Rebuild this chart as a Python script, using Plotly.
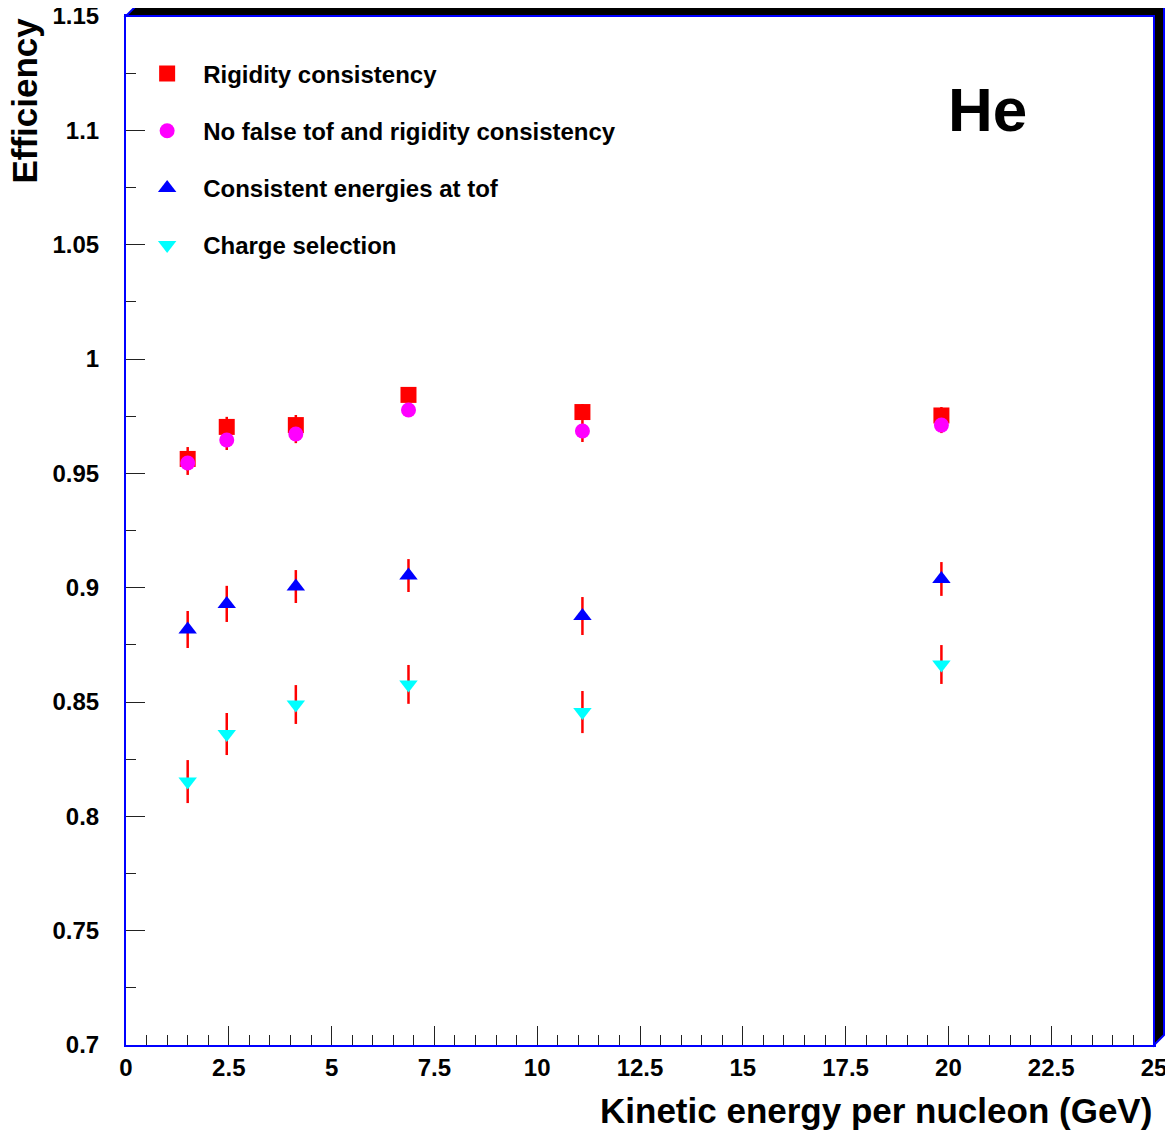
import plotly.graph_objects as go

# ---- data ----
energy = [1.50, 2.45, 4.13, 6.87, 11.10, 19.83]

rigidity_eff = [0.9563, 0.9703, 0.9711, 0.9843, 0.9768, 0.9753]
rigidity_err = [0.0052, 0.0044, 0.0044, 0.0030, 0.0035, 0.0037]

nofalsetof_eff = [0.9545, 0.9646, 0.9672, 0.9777, 0.9685, 0.9711]
nofalsetof_err = [0.0052, 0.0044, 0.0040, 0.0030, 0.0048, 0.0035]

tofenergy_eff = [0.8817, 0.8929, 0.9005, 0.9053, 0.8876, 0.9038]
tofenergy_err = [0.0081, 0.0079, 0.0072, 0.0072, 0.0083, 0.0074]

charge_eff = [0.8152, 0.8360, 0.8489, 0.8577, 0.8456, 0.8664]
charge_err = [0.0094, 0.0092, 0.0085, 0.0085, 0.0092, 0.0085]

series_names = ["Rigidity consistency",
                "No false tof and rigidity consistency",
                "Consistent energies at tof",
                "Charge selection"]

x_tickvals = [0, 2.5, 5, 7.5, 10, 12.5, 15, 17.5, 20, 22.5, 25]
x_ticktext = ["0", "2.5", "5", "7.5", "10", "12.5", "15", "17.5", "20", "22.5", "25"]
y_tickvals = [0.7, 0.75, 0.8, 0.85, 0.9, 0.95, 1.0, 1.05, 1.1, 1.15]
y_ticktext = ["0.7", "0.75", "0.8", "0.85", "0.9", "0.95", "1", "1.05", "1.1", "1.15"]

FONT = "Liberation Sans, Arial, Helvetica, sans-serif"
BLUE = "#0000ff"

fig = go.Figure()

specs = [
    (rigidity_eff, rigidity_err, "square", "#ff0000", 16),
    (nofalsetof_eff, nofalsetof_err, "circle", "#ff00ff", 15),
    (tofenergy_eff, tofenergy_err, "triangle-up", "#0000ff", 16),
    (charge_eff, charge_err, "triangle-down", "#00ffff", 16),
]
for i, (vals, errs, sym, col, sz) in enumerate(specs):
    fig.add_trace(go.Scatter(
        x=energy, y=vals, mode="markers", name=series_names[i],
        legendgroup=f"g{i}",
        marker=dict(symbol=sym, color=col, size=sz, line=dict(width=0)),
        error_y=dict(type="data", array=errs, visible=True, color="#ff0000",
                     thickness=2.5, width=0),
    ))

# frame shadow (top and right), ROOT style
d = 0.00973
fig.add_shape(type="path", xref="paper", yref="paper",
              path=f"M 0,1 L {d},{1+d} L {1+d},{1+d} L {1+d},{d} L 1,0 L 1,1 Z",
              fillcolor="black", line=dict(color=BLUE, width=2), layer="above")

fig.add_annotation(x=0.8385, y=0.9087, xref="paper", yref="paper",
                   text="He", showarrow=False, xanchor="center", yanchor="middle",
                   font=dict(family=FONT, size=62, color="black", weight="bold"))
fig.add_annotation(x=1.0, y=-0.0632, xref="paper", yref="paper",
                   text="Kinetic energy per nucleon (GeV)", showarrow=False,
                   xanchor="right", yanchor="middle",
                   font=dict(family=FONT, size=35, color="black", weight="bold"))
fig.add_annotation(x=-0.0996, y=1.0, xref="paper", yref="paper",
                   text="Efficiency", showarrow=False, textangle=-90,
                   xanchor="center", yanchor="top",
                   font=dict(family=FONT, size=35, color="black", weight="bold"))

axis_common = dict(showgrid=False, zeroline=False, showline=True, linecolor=BLUE,
                   linewidth=2, mirror=True, ticks="inside", tickcolor="#222222",
                   tickwidth=1, ticklen=19, automargin=False,
                   ticklabeloverflow="allow",
                   tickfont=dict(family=FONT, size=24, color="black", weight="bold"))

fig.update_xaxes(range=[0, 25], tickvals=x_tickvals, ticktext=x_ticktext,
                 minor=dict(dtick=0.5, tick0=0, ticks="inside", ticklen=10,
                            tickcolor="#222222", tickwidth=1),
                 ticklabelstandoff=0, **axis_common)
fig.update_yaxes(range=[0.7, 1.15], tickvals=y_tickvals, ticktext=y_ticktext,
                 minor=dict(dtick=0.025, tick0=0.7, ticks="inside", ticklen=10,
                            tickcolor="#222222", tickwidth=1),
                 ticklabelstandoff=20, **axis_common)

# page body has an 8px margin: shrink the figure so the plot frame lands in place
fig.update_layout(
    width=1165, height=1125,
    margin=dict(l=118, r=19, t=8, b=88, autoexpand=False),
    paper_bgcolor="white", plot_bgcolor="white",
    showlegend=True,
    legend=dict(x=0.005, y=0.9656, xanchor="left", yanchor="top",
                bgcolor="rgba(0,0,0,0)", borderwidth=0,
                traceorder="grouped", tracegroupgap=23, itemwidth=62,
                font=dict(family=FONT, size=24, color="black", weight="bold")),
)

fig.write_html("out.html")
